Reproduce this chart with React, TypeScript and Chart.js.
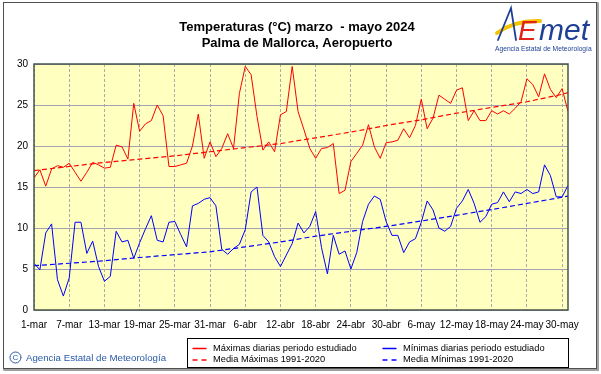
import React, { useEffect, useRef } from 'react';
import { Chart, registerables } from 'chart.js';

Chart.register(...registerables);

const FONT = '"Liberation Sans", Arial, sans-serif';

const tickDays = [0, 6, 12, 18, 24, 30, 36, 42, 48, 54, 60, 66, 72, 78, 84, 90];
const tickLabels = ['1-mar', '7-mar', '13-mar', '19-mar', '25-mar', '31-mar', '6-abr', '12-abr', '18-abr', '24-abr', '30-abr', '6-may', '12-may', '18-may', '24-may', '30-may'];

// Daily maxima, 1 March .. 31 May 2024 (92 days)
const maxDaily = [
  16.1, 17.1, 15.1, 17.2, 17.6, 17.4, 17.9, 16.8, 15.7, 16.8,
  18.0, 17.7, 17.3, 17.4, 20.1, 19.9, 18.4, 25.2, 21.8, 22.7,
  23.1, 25.0, 23.7, 17.5, 17.5, 17.7, 17.9, 20.0, 23.9, 18.5,
  20.5, 18.7, 19.7, 21.5, 19.7, 26.4, 29.7, 28.7, 23.6, 19.5,
  20.5, 19.3, 23.8, 24.2, 29.7, 24.2, 22.0, 19.7, 18.5, 19.7,
  19.8, 20.3, 14.2, 14.6, 18.1, 19.1, 20.1, 22.6, 19.9, 18.5,
  20.4, 20.5, 20.7, 22.1, 21.0, 22.5, 25.7, 22.1, 23.4, 26.2,
  25.7, 25.2, 26.8, 27.1, 23.1, 24.3, 23.1, 23.1, 24.3, 23.9,
  24.3, 23.9, 24.6, 25.4, 28.2, 27.5, 26.0, 28.8, 26.9, 25.9,
  27.0, 24.2,
];

// Daily minima
const minDaily = [
  5.7, 4.9, 9.4, 10.5, 3.7, 1.7, 3.9, 10.7, 10.7, 6.9,
  8.4, 5.3, 3.5, 4.1, 9.6, 8.3, 8.5, 6.3, 8.2, 9.9,
  11.5, 8.5, 8.3, 10.7, 10.8, 9.2, 7.7, 12.7, 13.0, 13.5,
  13.7, 12.7, 7.4, 6.8, 7.5, 8.0, 9.8, 14.4, 15.0, 9.1,
  8.3, 6.5, 5.3, 6.7, 8.1, 10.6, 9.4, 10.2, 12.0, 7.6,
  4.4, 9.1, 6.8, 7.2, 5.0, 7.0, 10.8, 12.9, 13.9, 13.5,
  10.8, 9.1, 9.1, 7.0, 8.3, 8.7, 10.7, 13.3, 12.2, 10.0,
  9.6, 10.2, 12.4, 13.3, 14.7, 13.0, 10.7, 11.4, 12.9, 13.1,
  14.4, 13.2, 14.4, 14.2, 14.7, 14.2, 14.4, 17.7, 16.4, 13.8,
  13.8, 15.2,
];

// 1991-2020 means, read at the gridline days and at the last day
const meanDays = [0, 6, 12, 18, 24, 30, 36, 42, 48, 54, 60, 66, 72, 78, 84, 90, 91];
const meanMax = [17.0, 17.5, 18.0, 18.4, 18.8, 19.3, 19.8, 20.3, 21.0, 21.7, 22.5, 23.2, 24.0, 24.7, 25.4, 26.3, 26.5];
const meanMin = [5.4, 5.7, 6.0, 6.4, 6.75, 7.1, 7.7, 8.3, 9.0, 9.6, 10.2, 10.85, 11.55, 12.25, 13.0, 13.75, 13.9];

const seriesLabels = [
  'Máximas diarias periodo estudiado',
  'Mínimas diarias periodo estudiado',
  'Media Máximas 1991-2020',
  'Media Mínimas 1991-2020',
];

const RED = '#ff0000';
const BLUE = '#0000ff';

const decorPlugin = {
  id: 'decor',
  beforeDraw(chart: any) {
    const { ctx, chartArea: a } = chart;
    ctx.save();
    ctx.fillStyle = '#ffffff';
    ctx.fillRect(0, 0, chart.width, chart.height);
    ctx.fillStyle = '#ffffc0';
    ctx.fillRect(a.left, a.top, a.right - a.left, a.bottom - a.top);
    ctx.restore();
  },
  afterDraw(chart: any) {
    const { ctx, chartArea: a } = chart;
    ctx.save();
    // plot border
    ctx.strokeStyle = '#46544a';
    ctx.lineWidth = 1.5;
    ctx.strokeRect(a.left, a.top, a.right - a.left, a.bottom - a.top);

    // titles
    ctx.fillStyle = '#000';
    ctx.textAlign = 'center';
    ctx.textBaseline = 'middle';
    ctx.font = `bold 13px ${FONT}`;
    ctx.fillText('Temperaturas (°C) marzo  - mayo 2024', 297, 27);
    ctx.fillText('Palma de Mallorca, Aeropuerto', 297, 43.5);

    // logo
    ctx.lineCap = 'round';
    ctx.strokeStyle = '#f3c400';
    ctx.lineWidth = 4;
    ctx.beginPath();
    ctx.moveTo(497, 33);
    ctx.quadraticCurveTo(515, 20, 540, 21);
    ctx.stroke();
    ctx.strokeStyle = '#1d3f95';
    ctx.lineWidth = 1.8;
    ctx.beginPath();
    ctx.moveTo(498, 40);
    ctx.lineTo(511, 8);
    ctx.lineTo(516, 40);
    ctx.stroke();
    ctx.textAlign = 'left';
    ctx.textBaseline = 'alphabetic';
    ctx.font = `italic 28px ${FONT}`;
    ctx.fillStyle = '#e2231a';
    ctx.fillText('E', 518, 40);
    ctx.fillStyle = '#1d3f95';
    ctx.font = `italic 30px ${FONT}`;
    ctx.fillText('met', 539, 40);
    ctx.font = `6.7px ${FONT}`;
    ctx.fillStyle = '#1d3f95';
    ctx.textBaseline = 'middle';
    ctx.fillText('Agencia Estatal de Meteorología', 495, 49);

    // legend box
    ctx.strokeStyle = '#000';
    ctx.lineWidth = 1;
    ctx.strokeRect(187.5, 338.5, 381, 29);
    const rows = [348, 359.5];
    const cols = [193, 383];
    const textX = [213, 403];
    const colors = [RED, BLUE, RED, BLUE];
    ctx.font = `9.3px ${FONT}`;
    ctx.textBaseline = 'middle';
    seriesLabels.forEach((lab, i) => {
      const col = i % 2;
      const row = Math.floor(i / 2);
      const y = rows[row];
      ctx.strokeStyle = colors[i];
      ctx.lineWidth = 1.3;
      ctx.setLineDash(row === 0 ? [] : [4, 5]);
      ctx.beginPath();
      ctx.moveTo(cols[col], y + 0.5);
      ctx.lineTo(cols[col] + 13, y + 0.5);
      ctx.stroke();
      ctx.setLineDash([]);
      ctx.fillStyle = '#000';
      ctx.fillText(lab, textX[col], y);
    });

    // copyright
    ctx.strokeStyle = '#2a5aa8';
    ctx.lineWidth = 1;
    ctx.beginPath();
    ctx.arc(15.5, 357.5, 5.5, 0, Math.PI * 2);
    ctx.stroke();
    ctx.fillStyle = '#2a5aa8';
    ctx.textAlign = 'center';
    ctx.font = `8px ${FONT}`;
    ctx.fillText('C', 15.5, 358);
    ctx.textAlign = 'left';
    ctx.font = `9.7px ${FONT}`;
    ctx.fillText('Agencia Estatal de Meteorología', 26, 358);

    // outer frame
    ctx.strokeStyle = '#505050';
    ctx.lineWidth = 1;
    ctx.strokeRect(3.5, 2.5, 593, 366);
    ctx.strokeStyle = '#a0a0a0';
    ctx.lineWidth = 2;
    ctx.beginPath();
    ctx.moveTo(4, 370);
    ctx.lineTo(598, 370);
    ctx.lineTo(598, 3);
    ctx.stroke();
    ctx.restore();
  },
};

export default function App() {
  const ref = useRef<HTMLCanvasElement>(null);

  useEffect(() => {
    if (!ref.current) return;
    const toXY = (arr: number[]) => arr.map((v, i) => ({ x: i, y: v }));
    const meanXY = (arr: number[]) => arr.map((v, i) => ({ x: meanDays[i], y: v }));
    const chart = new Chart(ref.current, {
      type: 'line',
      data: {
        datasets: [
          { label: seriesLabels[2], data: meanXY(meanMax), borderColor: RED, borderWidth: 1.2, borderDash: [5, 3], pointRadius: 0, tension: 0 },
          { label: seriesLabels[3], data: meanXY(meanMin), borderColor: BLUE, borderWidth: 1.2, borderDash: [5, 3], pointRadius: 0, tension: 0 },
          { label: seriesLabels[0], data: toXY(maxDaily), borderColor: RED, borderWidth: 1, pointRadius: 0, tension: 0 },
          { label: seriesLabels[1], data: toXY(minDaily), borderColor: BLUE, borderWidth: 1, pointRadius: 0, tension: 0 },
        ],
      },
      options: {
        responsive: false,
        animation: false,
        devicePixelRatio: 1,
        layout: { padding: { left: 0, right: 33, top: 64, bottom: 0 } },
        plugins: { legend: { display: false }, title: { display: false }, tooltip: { enabled: false } },
        scales: {
          x: {
            type: 'linear',
            min: 0,
            max: 91,
            afterBuildTicks: (scale: any) => {
              scale.ticks = tickDays.map((v) => ({ value: v }));
            },
            afterFit: (scale: any) => {
              scale.height = 64;
            },
            ticks: {
              autoSkip: false,
              maxRotation: 0,
              padding: 9,
              color: '#000',
              font: { family: FONT, size: 10 },
              callback: (v: any) => tickLabels[tickDays.indexOf(Number(v))],
            },
            grid: { color: '#ababab', drawTicks: false, lineWidth: 1 },
            border: { display: false, dash: [3, 2] },
          },
          y: {
            min: 0,
            max: 30,
            afterFit: (scale: any) => {
              scale.width = 34;
            },
            ticks: {
              stepSize: 5,
              padding: 6,
              color: '#000',
              font: { family: FONT, size: 10 },
            },
            grid: { color: '#a3a3b3', drawTicks: false, lineWidth: 1 },
            border: { display: false },
          },
        },
      },
      plugins: [decorPlugin],
    } as any);
    return () => chart.destroy();
  }, []);

  return (
    <div style={{ position: 'fixed', left: 0, top: 0, width: 601, height: 374, background: '#fff' }}>
      <canvas ref={ref} width={601} height={374} style={{ display: 'block' }} />
    </div>
  );
}
